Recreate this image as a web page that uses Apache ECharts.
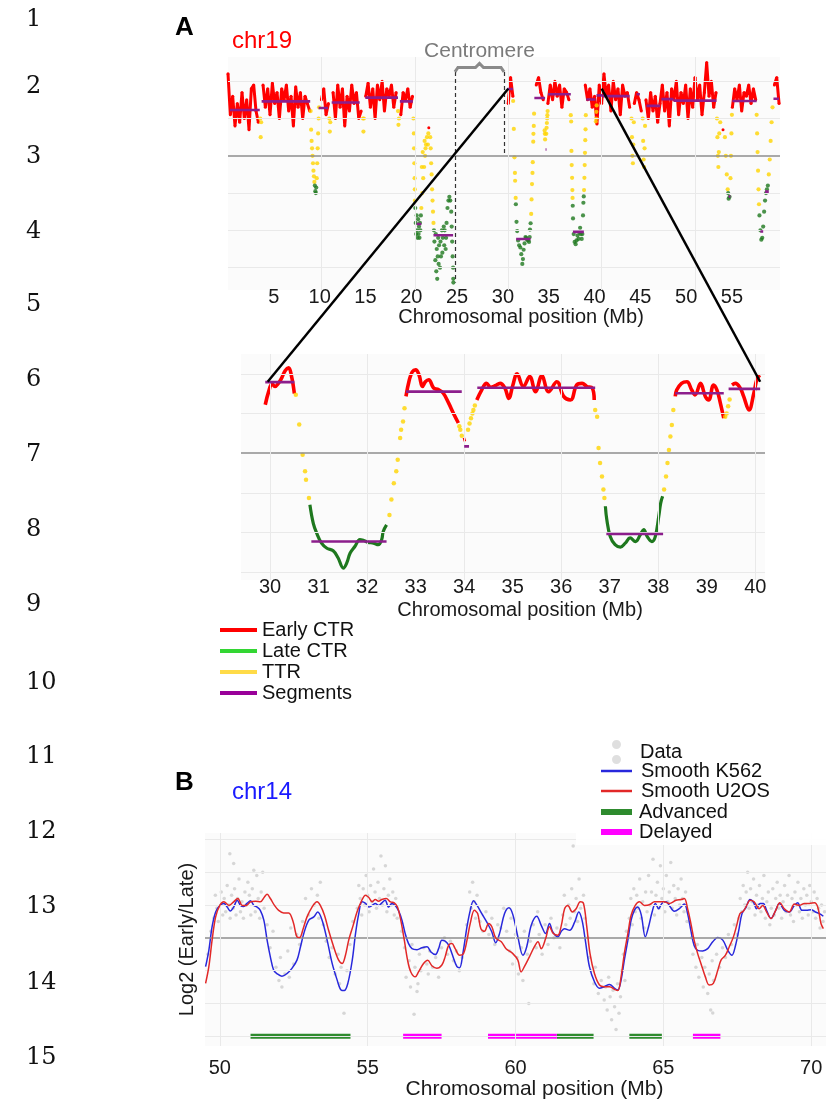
<!DOCTYPE html>
<html>
<head>
<meta charset="utf-8">
<script src="https://cdn.jsdelivr.net/npm/echarts@6/dist/echarts.min.js"></script>
<style>
  html, body { margin: 0; padding: 0; background: #fff; }
  #chart { width: 826px; height: 1103px; }
</style>
</head>
<body>
<div id="chart"></div>
<script>
// ---- panel A, chr19 overview: early CTR profile sampled every 0.25 Mb (null = not early)
const chr19Step = 0.25;
const chr19Early = [
  2.2, 1.1, 1.6, 0.8,  1.4, 0.9, 1.7, 1.0,  1.5, 0.7, 1.8, 1.9,  1.2, 0.9, null, 1.9,   // 0-3
  1.3, 1.8, 1.1, 1.95, 1.4, 1.7, 1.0, 1.8,  1.5, 1.9, 1.2, 1.6,  0.8, 1.85, 1.3, 1.7,  // 4-7
  1.0, 1.6, 1.4, 1.2,  null, null, null, null, 1.5, 1.8, 1.1, 1.4, null, 1.7, 1.0, 1.9,  // 8-11
  1.3, 1.8, 0.8, 1.6,  1.2, 1.9, 1.4, 1.7,  1.0, 1.2, null, 1.6,  1.95, 1.3, 1.8, 1.0,  // 12-15
  1.9, 1.5, 2.0, 1.2,  1.8, 1.6, 1.9, 1.3,  1.7, null, 1.1, 1.7,  1.5, 1.8, 1.3, 1.6,   // 16-19
  null, null, null, null, null, null, 0.75, null,                                     // 20-21
  null, null, null, null, null, null, null, null, null, null, null, null,             // 22-24
  null, null, null, null, null, null, null, null, null, null, null, null,             // 25-27
  null, null, null, null, null, null, null, null,                                     // 28-29
  1.4, 2.1, 1.6, null, null, null, null, null, null, null, null, null,                // 30-32
  1.9, 2.1, 1.7, 1.5,  null, 1.4, 1.9, 1.5,  2.0, 1.6, 1.9, 1.3,  1.8, 1.7, 1.5, null,  // 33-36
  null, null, null, null, null, 1.9, 1.5, 1.8, 1.3, 1.6, 0.85, 1.9,                   // 37-39
  1.4, 2.2, 1.6, 1.9,  1.2, 2.0, 1.5, 1.8,  1.1, 1.9, 1.6, 1.7,  1.3, null, 1.4, 1.7,   // 40-43
  1.5, 1.2, null, 1.5, 1.0, 1.7, 1.2, 1.6,  0.9, 1.4, 1.9, 1.2,  1.7, 0.8, 1.8, 1.5,   // 44-47
  2.0, 1.1, 1.7, 1.4,  1.9, 1.0, 1.8, 1.3,  2.1, 1.5, 1.9, 1.1,  1.7, 2.5, 1.6, 2.0,   // 48-51
  1.3, 1.7, null, null, 0.7, null, null, null, 1.3, 1.8, 1.5, 1.9, 1.2, 1.7, 1.6, 1.9,  // 52-55
  1.4, 1.8, 1.5, null, null, null, null, null, null, null, 1.9, 2.1, 1.4               // 56-59
];
const chr19Ttr = [
  [3.45, 1.0], [3.5, 0.5], [3.55, 0.9],
  [8.85, 1.2], [8.9, 0.7], [8.95, 0.4], [9.0, 0.2], [9.05, 0.0], [9.1, -0.2], [9.15, -0.4], [9.2, -0.55], [9.25, -0.7],
  [9.5, -0.6], [9.55, -0.2], [9.6, 0.2], [9.65, 0.6], [9.7, 1.0], [9.75, 1.3],
  [10.85, 1.0], [10.9, 0.65], [10.95, 0.9], [14.45, 1.0], [14.5, 0.65], [14.55, 1.0],
  [18.2, 1.2], [18.25, 0.83], [18.3, 1.0],
  [19.85, 1.0], [19.9, 0.6], [19.92, 0.2], [19.95, -0.2], [19.98, -0.6], [20.0, -0.9], [20.02, -1.2],
  [20.7, -1.4], [20.75, -0.3], [20.8, -1.0], [20.85, 0.1], [20.9, -0.6], [21.0, -0.3], [21.05, 0.4], [21.1, 0.0],
  [21.15, 0.2], [21.2, 0.3], [21.3, 0.5], [21.4, 0.3], [21.45, 0.6],
  [21.65, 0.5], [21.7, 0.2], [21.75, -0.2], [21.8, -0.5], [21.85, -0.9], [21.9, -1.2], [21.95, -1.5], [22.0, -1.8],
  [43.2, 1.0], [43.25, 0.5], [43.3, 0.0], [43.35, -0.2], [43.4, 0.3], [43.45, 0.9],
  [44.4, 1.0], [44.45, 0.4], [44.5, -0.1], [44.55, -0.3], [44.6, 0.2], [44.65, 0.8],
  [52.35, 1.0], [52.4, 0.5], [52.45, 0.0], [52.5, -0.3], [52.55, 0.1], [52.6, 0.6], [52.7, 0.9],
  [53.2, 0.5], [53.3, 0.0], [53.4, -0.5], [53.5, -0.9], [53.8, -0.6], [53.85, 0.0], [53.9, 0.6], [53.95, 1.1],
  [56.6, 1.1], [56.65, 0.6], [56.7, 0.1], [56.75, -0.4], [56.8, -0.9], [56.85, -1.3],
  [57.9, -0.5], [58.0, -0.1], [58.1, 0.4], [58.2, 0.9], [58.3, 1.3]
];
const chr19Late = [
  [9.3, -0.8], [9.35, -0.95], [9.4, -1.0], [9.45, -0.85],
  [20.05, -1.4], [20.1, -1.8], [20.15, -2.1], [20.2, -1.6], [20.25, -2.0], [20.3, -2.2], [20.35, -1.7], [20.4, -2.1],
  [20.45, -1.9], [20.5, -2.2], [20.55, -1.8], [20.6, -2.0], [20.65, -1.6],
  [22.05, -2.0], [22.1, -2.3], [22.2, -2.8], [22.25, -2.1], [22.3, -3.1], [22.35, -2.5], [22.4, -3.3], [22.45, -2.7],
  [22.5, -2.2], [22.55, -2.9], [22.6, -2.4], [22.7, -3.0], [22.75, -2.3], [22.8, -2.7], [22.9, -2.0], [22.95, -2.6],
  [23.0, -2.2], [23.1, -1.9], [23.15, -2.4], [23.2, -2.0], [23.3, -2.5], [23.35, -2.2], [23.4, -1.8], [23.5, -1.4],
  [23.6, -1.2], [23.7, -1.1], [23.8, -1.2], [23.9, -1.5], [23.95, -1.9], [24.0, -2.3], [24.05, -2.7], [24.1, -3.0],
  [24.12, -3.3], [24.13, -3.4],
  [53.55, -1.0], [53.6, -1.15], [53.7, -1.1],
  [56.9, -1.6], [57.0, -2.0], [57.1, -2.25], [57.2, -2.2], [57.3, -1.9], [57.4, -1.5], [57.5, -1.2], [57.6, -1.0],
  [57.7, -0.9], [57.8, -0.8]
];
const chr19Segments = [
  [0.2, 3.4, 1.23], [3.6, 8.8, 1.46], [9.7, 10.7, 1.28], [11.1, 14.1, 1.43], [14.7, 18.2, 1.56], [18.4, 19.8, 1.46],
  [20.2, 20.7, -1.83], [22.0, 24.1, -2.13], [40.1, 43.0, 1.6], [43.75, 44.1, 1.65], [44.8, 46.25, 1.34],
  [46.4, 47.7, 1.52], [47.7, 52.3, 1.48], [53.6, 53.8, -1.09], [54.0, 56.6, 1.47], [57.0, 57.3, -2.03],
  [57.5, 57.9, -0.96], [58.4, 59.0, 1.53]
];
const centromere = [24.3, 29.55];
const zoomRange = [30, 40];

// ---- panel A, zoom 30-40 Mb (also drawn in the overview)
const zoomEarly = [
  [[29.9, 1.22], [29.97, 1.55], [30.04, 1.75], [30.1, 1.68], [30.17, 1.76], [30.24, 1.9], [30.31, 2.08], [30.38, 2.15], [30.44, 1.95], [30.5, 1.5]],
  [[32.8, 1.43], [32.87, 1.85], [32.93, 2.05], [33.0, 2.1], [33.07, 1.97], [33.14, 1.68], [33.2, 1.8], [33.27, 1.85], [33.37, 1.64],
   [33.47, 1.6], [33.57, 1.51], [33.68, 1.26], [33.78, 1.0], [33.88, 0.76]],
  [[33.98, 0.33], [34.03, 0.35]],
  [[34.26, 1.34], [34.36, 1.59], [34.46, 1.76], [34.55, 1.66], [34.64, 1.7], [34.74, 1.76], [34.84, 1.64], [34.92, 1.38], [35.0, 1.7],
   [35.09, 2.0], [35.22, 1.68], [35.35, 1.93], [35.47, 1.55], [35.6, 1.95], [35.74, 1.55], [35.91, 1.8], [36.05, 1.43], [36.19, 1.34],
   [36.32, 1.72], [36.43, 1.76], [36.53, 1.68], [36.64, 1.64], [36.68, 1.34]],
  [[38.35, 1.43], [38.38, 1.59], [38.48, 1.76], [38.59, 1.8], [38.69, 1.59], [38.76, 1.47], [38.87, 1.76], [38.97, 1.43], [39.04, 1.34],
   [39.14, 1.72], [39.21, 1.59], [39.28, 1.26], [39.35, 0.88]],
  [[39.52, 1.72], [39.59, 1.76], [39.69, 1.64], [39.76, 1.43], [39.87, 1.09], [39.97, 1.51], [40.03, 1.85], [40.09, 1.97]]
];
const zoomTtr = [
  [30.53, 1.47], [30.6, 0.72], [30.67, -0.04], [30.72, -0.46], [30.74, -0.67], [30.8, -1.13],
  [32.46, -1.56], [32.5, -1.17], [32.55, -0.76], [32.6, -0.46], [32.63, -0.17], [32.68, 0.38], [32.7, 0.59], [32.74, 0.8], [32.77, 1.13],
  [33.9, 0.68], [33.92, 0.59], [33.95, 0.44], [34.08, 0.59], [34.11, 0.75], [34.14, 0.88], [34.17, 1.0], [34.19, 1.09], [34.22, 1.2],
  [36.7, 1.09], [36.74, 0.92], [36.77, 0.13], [36.8, -0.25], [36.84, -0.59], [36.87, -0.92], [36.89, -1.13],
  [38.12, -0.92], [38.16, -0.59], [38.19, -0.25], [38.22, 0.08], [38.25, 0.42], [38.28, 0.71], [38.31, 1.09],
  [39.38, 0.92], [39.41, 1.0], [39.44, 1.18], [39.47, 1.35]
];
const zoomLate = [
  [[30.82, -1.3], [30.89, -1.77], [30.96, -2.02], [31.06, -2.27], [31.17, -2.4], [31.3, -2.46], [31.4, -2.64], [31.51, -2.9], [31.58, -2.77],
   [31.65, -2.52], [31.75, -2.35], [31.85, -2.18], [31.92, -2.2], [32.02, -2.25], [32.13, -2.27], [32.23, -2.31], [32.3, -2.18], [32.33, -1.98], [32.4, -1.81]],
  [[36.91, -1.34], [36.94, -1.68], [37.01, -2.1], [37.11, -2.31], [37.22, -2.37], [37.32, -2.27], [37.42, -2.14], [37.53, -2.23], [37.63, -2.06],
   [37.7, -1.93], [37.77, -2.1], [37.87, -2.23], [37.94, -2.1], [38.01, -1.6], [38.05, -1.26], [38.09, -1.09]]
];
const zoomSegments = [
  [29.9, 30.5, 1.79], [30.85, 32.4, -2.23], [32.8, 33.95, 1.55], [34.0, 34.1, 0.17], [34.27, 36.7, 1.65],
  [36.93, 38.1, -2.04], [38.35, 39.35, 1.51], [39.45, 40.1, 1.62]
];

// ---- panel B, chr14
const chr14Data = [
  [49.6, -0.5], [49.7, 0.2], [49.8, 0.6], [49.85, 1.3], [49.9, 0.9], [49.95, 0.5],
  [50.05, 1.4], [50.1, 0.7], [50.15, 1.2], [50.2, 0.8], [50.25, 1.6], [50.3, 1.0], [50.34, 2.57], [50.35, 0.6], [50.4, 1.3], [50.45, 0.9],
  [50.47, 2.27], [50.5, 1.5], [50.55, 0.7], [50.6, 1.2], [50.65, 1.8], [50.7, 0.8], [50.75, 1.1], [50.8, 0.6], [50.85, 1.4], [50.9, 1.0],
  [50.95, 1.7], [51.0, 1.3], [51.05, 0.7], [51.1, 1.5], [51.15, 2.06], [51.2, 0.8], [51.25, 1.9], [51.3, 1.2], [51.35, 0.6], [51.4, 1.4],
  [51.45, 2.0], [51.5, 0.9],
  [51.6, 0.4], [51.7, -0.3], [51.8, 0.2], [51.9, -0.9], [52.0, -1.3], [52.05, -0.6], [52.1, -1.5], [52.2, -1.1], [52.3, -0.4], [52.35, -1.2],
  [52.4, 0.3], [52.5, -0.8], [52.6, 0.1], [52.7, -0.2], [52.8, 0.5], [52.9, 1.2], [53.0, 0.7], [53.1, 1.5], [53.2, 1.0], [53.3, 1.3],
  [53.35, 0.6], [53.4, 1.7], [53.5, 0.4], [53.6, -0.1], [53.7, -0.6], [53.8, -0.3], [53.9, -1.1], [54.0, -0.5], [54.05, -1.4], [54.1, -0.9],
  [54.2, -2.3], [54.3, -1.0], [54.4, -0.2], [54.5, 0.5],
  [54.65, 0.9], [54.7, 1.6], [54.75, 1.2], [54.8, 0.7], [54.85, 1.5], [54.9, 1.0], [54.95, 1.9], [55.0, 1.3], [55.05, 0.8], [55.1, 1.6],
  [55.15, 1.1], [55.2, 2.1], [55.25, 1.4], [55.3, 0.9], [55.35, 1.7], [55.4, 1.2], [55.45, 2.5], [55.5, 1.0], [55.55, 1.5], [55.6, 2.2],
  [55.65, 0.8], [55.7, 1.3], [55.75, 1.8], [55.8, 1.0], [55.85, 1.4], [55.9, 0.7], [55.95, 1.2], [56.0, 0.6],
  [56.15, 0.2], [56.25, -0.3], [56.3, -1.2], [56.4, -0.7], [56.45, -1.5], [56.5, -0.2], [56.57, -2.33], [56.6, -0.9], [56.67, -1.64],
  [56.7, -1.4], [56.75, -0.5], [56.8, -1.0], [56.9, -0.3], [57.0, -0.8], [57.05, -1.1], [57.1, -0.4], [57.2, -0.9], [57.3, -0.6],
  [57.4, -1.2], [57.5, -0.3], [57.6, 0.0], [57.7, -0.5], [57.8, -0.1], [57.9, -0.7], [58.0, -0.4], [58.1, -1.0], [58.2, -0.6],
  [58.35, 0.4], [58.45, 1.4], [58.5, 0.9], [58.55, 1.7], [58.6, 1.1], [58.65, 0.6], [58.7, 1.3], [58.8, 0.5], [58.9, 0.2], [59.0, 0.8],
  [59.1, 0.1], [59.2, 0.6], [59.3, -0.2], [59.4, 0.4],
  [59.5, 0.3], [59.6, 0.9], [59.7, 0.2], [59.8, -0.4], [59.85, 0.6], [59.9, -0.8], [60.0, 0.1], [60.05, -0.6], [60.1, -1.1], [60.2, -0.3],
  [60.25, -1.3], [60.3, 0.2], [60.4, -0.5], [60.45, -2.0], [60.5, -0.1], [60.6, 0.4], [60.7, -0.3], [60.75, 0.8], [60.8, 0.1], [60.9, -0.5],
  [61.0, 0.4], [61.1, -0.2], [61.2, 0.6], [61.3, 0.0], [61.4, 0.3], [61.5, -0.3],
  [61.6, 0.7], [61.65, 1.3], [61.7, 0.4], [61.8, 1.0], [61.85, 0.6], [61.9, 1.5], [61.95, 2.8], [62.0, 0.8], [62.05, 1.2], [62.1, 0.5],
  [62.15, 1.8], [62.2, 0.9], [62.3, 1.3], [62.35, 0.6],
  [62.45, 0.0], [62.5, -0.6], [62.55, -1.0], [62.65, -1.4], [62.7, -0.9], [62.8, -1.7], [62.9, -1.3], [63.0, -1.9], [63.05, -1.5],
  [63.1, -2.2], [63.15, -1.2], [63.2, -1.8], [63.25, -2.5], [63.3, -1.6], [63.35, -2.1], [63.4, -2.8], [63.45, -1.4], [63.5, -2.3],
  [63.55, -1.8], [63.6, -1.0], [63.65, -0.5], [63.7, -1.3], [63.75, 0.2],
  [63.85, 0.6], [63.9, 1.2], [63.95, 0.4], [64.0, 1.5], [64.05, 0.8], [64.1, 1.3], [64.15, 0.9], [64.2, 1.8], [64.25, 0.6], [64.3, 1.1],
  [64.35, 0.3], [64.4, 1.4], [64.45, 0.8], [64.5, 1.9], [64.55, 1.0], [64.6, 1.4], [64.65, 2.4], [64.7, 0.7], [64.75, 1.3], [64.8, 1.7],
  [64.85, 0.9], [64.9, 2.2], [64.95, 1.2], [65.0, 1.5], [65.05, 0.8], [65.1, 1.9], [65.15, 1.1], [65.2, 1.4], [65.25, 2.3], [65.3, 0.9],
  [65.35, 1.6], [65.4, 1.2], [65.45, 0.7], [65.5, 1.5], [65.55, 1.0], [65.6, 1.8], [65.65, 1.2], [65.7, 0.8], [65.75, 1.4], [65.8, 0.5],
  [65.95, 0.0], [66.0, -0.5], [66.1, -0.9], [66.15, -0.2], [66.2, -1.2], [66.3, -0.6], [66.35, -1.5], [66.4, -0.9], [66.5, -1.7],
  [66.55, -1.1], [66.6, -2.2], [66.65, -0.7], [66.67, -2.29], [66.7, -1.3], [66.8, -0.5], [66.9, -0.9], [67.0, -0.3], [67.1, -0.6],
  [67.2, 0.1], [67.3, -0.2], [67.4, 0.4], [67.5, 0.1],
  [67.55, 0.6], [67.6, 1.2], [67.65, 0.8], [67.7, 1.6], [67.75, 1.0], [67.8, 1.4], [67.85, 2.0], [67.9, 0.9], [67.95, 1.5], [68.0, 1.1],
  [68.05, 1.8], [68.1, 0.7], [68.15, 1.3], [68.2, 1.0], [68.25, 1.6], [68.3, 0.8], [68.35, 1.2], [68.4, 1.9], [68.45, 0.6], [68.5, 1.1],
  [68.55, 1.4], [68.6, 0.4], [68.65, 0.9], [68.7, 1.5], [68.75, 0.7], [68.8, 1.2], [68.85, 1.7], [68.9, 0.9], [68.95, 1.3], [69.0, 0.6],
  [69.05, 1.1], [69.1, 1.6], [69.15, 0.8], [69.2, 1.3], [69.25, 1.9], [69.3, 0.7], [69.35, 1.2], [69.4, 0.5], [69.45, 1.4], [69.5, 1.0],
  [69.55, 1.7], [69.6, 0.8], [69.65, 1.2], [69.7, 0.6], [69.75, 1.5], [69.8, 1.0], [69.85, 1.3], [69.9, 0.7], [69.95, 1.6], [70.0, 1.1],
  [70.05, 0.8], [70.1, 1.4], [70.15, 0.6], [70.2, 1.2], [70.25, 0.9], [70.3, 0.3], [70.35, 1.0], [70.4, 0.5], [70.45, 0.8]
];
const smoothK562 = [
  [49.52, -0.88], [49.63, -0.38], [49.74, 0.34], [49.86, 0.79], [50.0, 0.99], [50.14, 1.05], [50.25, 0.94], [50.36, 0.82], [50.47, 0.94],
  [50.59, 1.15], [50.7, 0.99], [50.81, 0.96], [50.92, 1.05], [51.04, 1.13], [51.15, 0.99], [51.26, 0.94], [51.37, 0.84], [51.49, 0.54],
  [51.6, -0.07], [51.71, -0.58], [51.82, -0.98], [51.93, -1.09], [52.1, -1.17], [52.27, -1.09], [52.44, -0.93], [52.61, -0.68],
  [52.73, -0.27], [52.84, 0.13], [53.01, 0.54], [53.18, 0.64], [53.31, 0.79], [53.46, 0.54], [53.63, -0.07], [53.8, -0.78],
  [53.97, -1.29], [54.1, -1.59], [54.21, -1.61], [54.33, -1.39], [54.48, -0.68], [54.59, 0.13], [54.7, 0.74], [54.81, 1.1],
  [54.93, 1.05], [55.04, 0.94], [55.15, 0.99], [55.26, 1.05], [55.37, 0.99], [55.48, 1.07], [55.59, 1.15], [55.71, 0.94], [55.82, 1.05],
  [55.93, 0.99], [56.04, 0.84], [56.16, 0.54], [56.27, 0.13], [56.38, -0.17], [56.5, -0.33], [56.67, -0.36], [56.84, -0.3],
  [57.01, -0.27], [57.14, -0.43], [57.29, -0.51], [57.4, -0.33], [57.51, -0.07], [57.62, -0.1], [57.74, -0.22], [57.85, -0.48],
  [58.02, -0.88], [58.11, -0.91], [58.22, -0.48], [58.36, 0.34], [58.47, 0.84], [58.58, 1.13], [58.7, 0.99], [58.86, 0.74],
  [59.03, 0.48], [59.2, 0.18], [59.33, -0.15], [59.46, 0.13], [59.63, 0.74], [59.78, 0.92], [59.91, 0.71], [60.08, 0.03],
  [60.25, -0.53], [60.38, -0.27], [60.53, 0.38], [60.72, 0.66], [60.87, 0.38], [61.02, 0.13], [61.15, 0.44], [61.26, 0.18],
  [61.43, 0.03], [61.55, 0.2], [61.66, 0.28], [61.83, 0.23], [62.0, 0.48], [62.14, 0.79], [62.25, 0.54], [62.36, -0.07],
  [62.5, -0.88], [62.67, -1.34], [62.84, -1.54], [63.0, -1.49], [63.18, -1.42], [63.35, -1.54], [63.46, -1.59], [63.57, -1.29],
  [63.68, -0.68], [63.8, -0.07], [63.91, 0.54], [64.02, 0.84], [64.13, 0.94], [64.25, 0.71], [64.39, 0.03], [64.5, 0.34],
  [64.62, 0.79], [64.73, 1.05], [64.84, 0.89], [64.95, 1.05], [65.09, 1.1], [65.2, 0.99], [65.37, 0.81], [65.54, 0.89], [65.71, 1.03],
  [65.82, 0.74], [65.93, 0.23], [66.04, -0.23], [66.16, -0.38], [66.33, -0.4], [66.5, -0.33], [66.67, -0.12], [66.84, 0.01],
  [67.01, -0.07], [67.18, -0.38], [67.32, -0.53], [67.43, -0.27], [67.55, 0.23], [67.66, 0.74], [67.8, 0.94], [67.93, 1.17],
  [68.04, 1.1], [68.15, 0.89], [68.27, 1.05], [68.38, 1.05], [68.49, 0.84], [68.64, 0.59], [68.79, 0.82], [68.92, 1.05], [69.09, 0.84],
  [69.26, 0.79], [69.43, 0.99], [69.54, 1.07], [69.69, 0.84], [69.83, 0.84], [70.0, 0.86], [70.14, 0.79], [70.28, 0.74], [70.41, 0.66]
];
const smoothU2OS = [
  [49.52, -1.39], [49.63, -0.88], [49.74, -0.07], [49.86, 0.64], [50.0, 0.99], [50.14, 1.1], [50.31, 0.99], [50.47, 1.1], [50.61, 1.2],
  [50.76, 0.99], [50.9, 0.99], [51.04, 1.1], [51.21, 1.12], [51.37, 1.1], [51.51, 1.25], [51.6, 1.33], [51.71, 1.2], [51.85, 0.99],
  [51.99, 0.84], [52.16, 0.76], [52.33, 0.76], [52.48, 0.49], [52.61, 0.03], [52.7, 0.01], [52.82, 0.28], [52.95, 0.64], [53.12, 0.94],
  [53.29, 1.1], [53.4, 0.99], [53.54, 0.69], [53.68, 0.23], [53.85, -0.27], [54.02, -0.68], [54.14, -0.78], [54.25, -0.53],
  [54.36, -0.07], [54.51, 0.38], [54.64, 0.79], [54.78, 1.1], [54.93, 1.3], [55.04, 1.23], [55.15, 1.1], [55.26, 1.17], [55.37, 1.12],
  [55.48, 1.17], [55.63, 1.2], [55.77, 1.1], [55.9, 1.07], [56.01, 0.94], [56.12, 0.54], [56.24, -0.07], [56.35, -0.68], [56.46, -1.04],
  [56.61, -1.19], [56.72, -1.04], [56.89, -0.78], [57.03, -0.68], [57.18, -0.86], [57.34, -0.93], [57.51, -0.83], [57.62, -0.58],
  [57.74, -0.22], [57.85, -0.17], [57.96, -0.33], [58.11, -0.53], [58.24, -0.48], [58.36, -0.07], [58.47, 0.44], [58.61, 0.84],
  [58.72, 0.74], [58.83, 0.28], [58.95, 0.2], [59.09, 0.44], [59.2, 0.34], [59.33, 0.0], [59.52, -0.12], [59.68, -0.33], [59.91, -0.48],
  [60.08, -0.68], [60.19, -1.04], [60.3, -0.88], [60.47, -0.58], [60.64, -0.27], [60.76, -0.12], [60.87, -0.33], [61.02, -0.02],
  [61.15, 0.34], [61.28, 0.13], [61.43, 0.08], [61.55, 0.38], [61.66, 0.89], [61.77, 0.99], [61.92, 0.79], [62.05, 0.89], [62.19, 1.1],
  [62.3, 1.05], [62.41, 0.34], [62.52, -0.48], [62.67, -1.09], [62.84, -1.44], [63.0, -1.49], [63.18, -1.49], [63.35, -1.57],
  [63.46, -1.61], [63.57, -1.19], [63.68, -0.48], [63.8, 0.13], [63.91, 0.69], [64.05, 0.99], [64.19, 1.1], [64.36, 0.99], [64.53, 1.01],
  [64.7, 1.1], [64.87, 1.1], [65.03, 1.1], [65.2, 1.05], [65.43, 1.15], [65.6, 1.17], [65.71, 1.2], [65.82, 0.89], [65.93, 0.44],
  [66.04, -0.07], [66.16, -0.48], [66.27, -0.78], [66.42, -1.19], [66.55, -1.44], [66.69, -1.39], [66.84, -0.99], [66.95, -0.68],
  [67.1, -0.53], [67.23, -0.27], [67.37, 0.03], [67.48, 0.38], [67.59, 0.74], [67.71, 0.82], [67.82, 0.99], [67.93, 1.15], [68.07, 1.1],
  [68.24, 0.89], [68.36, 0.99], [68.49, 0.79], [68.64, 0.59], [68.79, 0.82], [68.94, 1.07], [69.09, 0.89], [69.26, 0.79], [69.43, 1.03],
  [69.6, 0.99], [69.77, 1.05], [69.94, 1.05], [70.11, 1.07], [70.22, 0.94], [70.33, 0.44], [70.41, 0.28]
];
const advancedRegions = [[51.04, 54.42], [61.4, 62.64], [63.85, 64.95]];
const delayedRegions = [[56.2, 57.5], [59.07, 61.4], [66.0, 66.93]];
const regionRow = -3;

const lineNumberY = [20, 87, 157, 232, 305, 380, 455, 530, 605, 683, 757, 832, 907, 983, 1058];

// ---- helpers
const FONT = 'Liberation Sans';
const C = {
  early: '#ff0000', ttr: '#ffd400', late: '#1e781e', seg: '#8c1e8c',
  k562: '#2828dc', u2os: '#e22828', adv: '#2e8b2e', del: '#ff00ff', data: '#c9c9c9'
};
function joinClusters(clusters) {
  const out = [];
  clusters.forEach((c, i) => { if (i) out.push(['-', '-']); c.forEach(p => out.push(p)); });
  return out;
}
const segLines = segs => joinClusters(segs.map(s => [[s[0], s[2]], [s[1], s[2]]]));
const barLines = (bars, y) => joinClusters(bars.map(b => [[b[0], y], [b[1], y]]));
const gridStyle = { color: '#e9e9e9', width: 1, type: 'solid' };
const zeroStyle = { color: '#8e8e8e', width: 1.6, type: 'solid' };
function gridSeries(xi, yi, ys, xs, extra) {
  const data = ys.map(v => ({ yAxis: v, lineStyle: v === 0 ? zeroStyle : gridStyle }))
    .concat(xs.map(v => ({ xAxis: v, lineStyle: gridStyle })))
    .concat(extra || []);
  return {
    type: 'line', xAxisIndex: xi, yAxisIndex: yi, data: [], silent: true, z: 1,
    markLine: { silent: true, symbol: ['none', 'none'], label: { show: false }, animation: false, data: data }
  };
}
const intLabel = step => v => {
  const r = Math.round(v / step) * step;
  return Math.abs(v - r) < 1e-6 ? String(Math.round(r)) : '';
};
const hiddenAxisParts = { axisLine: { show: false }, axisTick: { show: false }, splitLine: { show: false } };
const axisNameStyle = { fontSize: 20, color: '#1a1a1a', fontFamily: FONT, padding: [0, 0, 0, 34] };

const chart = echarts.init(document.getElementById('chart'), null, { renderer: 'canvas', width: 826, height: 1103 });

const option = {
  animation: false,
  backgroundColor: '#ffffff',
  textStyle: { fontFamily: FONT },
  grid: [
    { left: 228, top: 57, width: 552, height: 233, show: true, backgroundColor: '#fbfbfb', borderWidth: 0, outerBoundsMode: 'none' },
    { left: 241, top: 354, width: 524, height: 226, show: true, backgroundColor: '#fbfbfb', borderWidth: 0, outerBoundsMode: 'none' },
    { left: 205, top: 833, width: 621, height: 213, show: true, backgroundColor: '#fbfbfb', borderWidth: 0, outerBoundsMode: 'none' }
  ],
  xAxis: [
    Object.assign({ gridIndex: 0, type: 'value', position: 'bottom', min: 0, max: 59.1, axisLabel: { show: false } }, hiddenAxisParts),
    Object.assign({
      gridIndex: 0, type: 'value', position: 'bottom', min: 0, max: 60.24, interval: 5,
      axisLabel: { margin: -3, fontSize: 20, color: '#1a1a1a', fontFamily: FONT, formatter: v => (v >= 5 && v <= 55) ? String(v) : '' },
      name: 'Chromosomal position (Mb)', nameLocation: 'middle', nameGap: 17, nameTextStyle: axisNameStyle
    }, hiddenAxisParts),
    Object.assign({
      gridIndex: 1, type: 'value', position: 'bottom', min: 29.4, max: 40.2, interval: 0.2,
      axisLabel: { margin: -3, fontSize: 20, color: '#1a1a1a', fontFamily: FONT, formatter: intLabel(1) },
      name: 'Chromosomal position (Mb)', nameLocation: 'middle', nameGap: 20, nameTextStyle: axisNameStyle
    }, hiddenAxisParts),
    Object.assign({
      gridIndex: 2, type: 'value', position: 'bottom', min: 49.5, max: 70.5, interval: 0.5,
      axisLabel: { margin: 12, fontSize: 20, color: '#1a1a1a', fontFamily: FONT, formatter: intLabel(5) },
      name: 'Chromosomal position (Mb)', nameLocation: 'middle', nameGap: 32,
      nameTextStyle: Object.assign({}, axisNameStyle, { fontSize: 21, padding: [0, 0, 0, 38] })
    }, hiddenAxisParts)
  ],
  yAxis: [
    Object.assign({ gridIndex: 0, type: 'value', min: -3.6, max: 2.65, axisLabel: { show: false } }, hiddenAxisParts),
    Object.assign({ gridIndex: 1, type: 'value', min: -3.2, max: 2.5, axisLabel: { show: false } }, hiddenAxisParts),
    Object.assign({
      gridIndex: 2, type: 'value', min: -3.3, max: 3.2, axisLabel: { show: false },
      name: 'Log2 (Early/Late)', nameLocation: 'middle', nameGap: 8,
      nameTextStyle: { fontSize: 20, color: '#1a1a1a', fontFamily: FONT }
    }, hiddenAxisParts)
  ],
  legend: [
    {
      orient: 'vertical', left: 220, top: 620, padding: 0, itemWidth: 37, itemHeight: 4, itemGap: 1, icon: 'rect',
      selectedMode: false, z: 20,
      textStyle: { fontSize: 20, color: '#111', fontFamily: FONT, lineHeight: 20 },
      data: [
        { name: 'Early CTR', itemStyle: { color: '#ff0000' } },
        { name: 'Late CTR', itemStyle: { color: '#00cc00' } },
        { name: 'TTR', itemStyle: { color: '#ffd21a' } },
        { name: 'Segments', itemStyle: { color: '#990099' } }
      ]
    },
    {
      orient: 'vertical', left: 612, top: 740, padding: 0, itemWidth: 9, itemHeight: 24, selectedMode: false, z: 20,
      icon: 'path://M0,4.5a4.5,4.5 0 1,0 9,0a4.5,4.5 0 1,0 -9,0zM0,19.5a4.5,4.5 0 1,0 9,0a4.5,4.5 0 1,0 -9,0z',
      textStyle: { fontSize: 20, color: '#111', fontFamily: FONT, padding: [0, 0, 0, 14] },
      data: [{ name: 'Data', itemStyle: { color: '#d4d4d4' } }]
    },
    {
      orient: 'vertical', left: 601, top: 761, padding: 0, itemWidth: 31, itemHeight: 2.5, itemGap: 0, icon: 'rect',
      selectedMode: false, z: 20,
      textStyle: { fontSize: 20, color: '#111', fontFamily: FONT, lineHeight: 20, padding: [0, 0, 0, 4] },
      data: ['Smooth K562', 'Smooth U2OS']
    },
    {
      orient: 'vertical', left: 601, top: 802, padding: 0, itemWidth: 31, itemHeight: 6, itemGap: 0, icon: 'rect',
      selectedMode: false, z: 20,
      textStyle: { fontSize: 20, color: '#111', fontFamily: FONT, lineHeight: 18, padding: [0, 0, 0, 2] },
      data: ['Advanced', 'Delayed']
    }
  ],
  series: [
    gridSeries(0, 0, [-3, -2, -1, 0, 1, 2], [10, 20, 30, 40, 50], [
      [{ coord: [centromere[0], 2.25], lineStyle: { color: '#333', width: 1.2, type: [4, 3] } }, { coord: [centromere[0], -3.4] }],
      [{ coord: [centromere[1], 2.25], lineStyle: { color: '#333', width: 1.2, type: [4, 3] } }, { coord: [centromere[1], 0] }]
    ]),
    {
      name: 'Early CTR', type: 'line', xAxisIndex: 0, yAxisIndex: 0, z: 3, showSymbol: true, symbol: 'circle', symbolSize: 3,
      connectNulls: false, lineStyle: { color: C.early, width: 3 }, itemStyle: { color: C.early },
      data: chr19Early.map((v, i) => [i * chr19Step, v == null ? '-' : v])
    },
    {
      name: 'TTR', type: 'scatter', xAxisIndex: 0, yAxisIndex: 0, z: 4, symbolSize: 4.2,
      itemStyle: { color: C.ttr }, data: chr19Ttr.concat(zoomTtr)
    },
    {
      name: 'Late CTR', type: 'scatter', xAxisIndex: 0, yAxisIndex: 0, z: 4, symbolSize: 4.2,
      itemStyle: { color: C.late }, data: chr19Late.concat(joinClusters(zoomLate).filter(p => p[0] !== '-'))
    },
    {
      name: 'Segments', type: 'line', xAxisIndex: 0, yAxisIndex: 0, z: 5, showSymbol: false,
      lineStyle: { color: C.seg, width: 2.6 }, itemStyle: { color: C.seg },
      data: segLines(chr19Segments.concat(zoomSegments))
    },

    gridSeries(2, 1, [-3, -2, -1, 0, 1, 2], [30, 32, 34, 36, 38, 40]),
    {
      name: 'Early CTR', type: 'line', xAxisIndex: 2, yAxisIndex: 1, z: 3, smooth: 0.4, showSymbol: false, connectNulls: false,
      lineStyle: { color: C.early, width: 3.6 }, itemStyle: { color: C.early }, data: joinClusters(zoomEarly)
    },
    {
      name: 'TTR', type: 'scatter', xAxisIndex: 2, yAxisIndex: 1, z: 4, symbolSize: 4.5,
      itemStyle: { color: C.ttr }, data: zoomTtr
    },
    {
      name: 'Late CTR', type: 'line', xAxisIndex: 2, yAxisIndex: 1, z: 3, smooth: 0.4, showSymbol: false, connectNulls: false,
      lineStyle: { color: C.late, width: 3.2 }, itemStyle: { color: C.late }, data: joinClusters(zoomLate)
    },
    {
      name: 'Segments', type: 'line', xAxisIndex: 2, yAxisIndex: 1, z: 5, showSymbol: false,
      lineStyle: { color: C.seg, width: 2.6 }, itemStyle: { color: C.seg }, data: segLines(zoomSegments)
    },

    gridSeries(3, 2, [-3, -2, -1, 0, 1, 2, 3], [50, 55, 60, 65, 70]),
    {
      name: 'Data', type: 'scatter', xAxisIndex: 3, yAxisIndex: 2, z: 2, symbolSize: 3.5,
      itemStyle: { color: C.data, opacity: 0.75 }, data: chr14Data
    },
    {
      name: 'Smooth K562', type: 'line', xAxisIndex: 3, yAxisIndex: 2, z: 4, smooth: 0.35, showSymbol: false,
      lineStyle: { color: C.k562, width: 1.5 }, itemStyle: { color: C.k562 }, data: smoothK562
    },
    {
      name: 'Smooth U2OS', type: 'line', xAxisIndex: 3, yAxisIndex: 2, z: 5, smooth: 0.35, showSymbol: false,
      lineStyle: { color: C.u2os, width: 1.5 }, itemStyle: { color: C.u2os }, data: smoothU2OS
    },
    {
      name: 'Advanced', type: 'line', xAxisIndex: 3, yAxisIndex: 2, z: 4, showSymbol: false,
      lineStyle: { color: C.adv, width: 5 }, itemStyle: { color: C.adv }, data: barLines(advancedRegions, regionRow)
    },
    {
      name: 'Delayed', type: 'line', xAxisIndex: 3, yAxisIndex: 2, z: 4, showSymbol: false,
      lineStyle: { color: C.del, width: 5 }, itemStyle: { color: C.del }, data: barLines(delayedRegions, regionRow)
    }
  ]
};
chart.setOption(option);

// annotations placed through the axes
const topPx = pt => chart.convertToPixel({ xAxisIndex: 0, yAxisIndex: 0 }, pt);
const zoomPx = pt => chart.convertToPixel({ xAxisIndex: 2, yAxisIndex: 1 }, pt);
const txt = (x, y, text, font, fill, align) => ({
  type: 'text', x: x, y: y, z: 30,
  style: { text: text, font: font, fill: fill, align: align || 'left', verticalAlign: 'middle', textAlign: align || 'left', textVerticalAlign: 'middle' }
});

const graphics = [];
lineNumberY.forEach((y, i) => graphics.push(txt(26, y, String(i + 1), '24px "DejaVu Serif"', '#111')));
graphics.push(txt(175, 28, 'A', 'bold 26px "Liberation Sans"', '#000'));
graphics.push(txt(175, 783, 'B', 'bold 26px "Liberation Sans"', '#000'));
graphics.push(txt(232, 41, 'chr19', '24px "Liberation Sans"', '#ff0000'));
graphics.push(txt(232, 792, 'chr14', '24px "Liberation Sans"', '#1a1aff'));

// centromere brace + label
const cL = topPx([centromere[0], 2.25]), cR = topPx([centromere[1], 2.25]);
const braceY = topPx([centromere[0], 2.37])[1], tipY = topPx([centromere[0], 2.48])[1];
const cMid = (cL[0] + cR[0]) / 2;
graphics.push({
  type: 'polyline', z: 30,
  shape: { points: [[cL[0], cL[1]], [cL[0] + 3, braceY], [cMid - 4, braceY], [cMid, tipY], [cMid + 4, braceY], [cR[0] - 3, braceY], [cR[0], cR[1]]] },
  style: { stroke: '#8a8a8a', lineWidth: 3, fill: null }
});
const labelPt = topPx([(centromere[0] + centromere[1]) / 2, 2.8]);
graphics.push(txt(labelPt[0], labelPt[1], 'Centromere', '21px "Liberation Sans"', '#7a7a7a', 'center'));

// zoom connectors
const a0 = topPx([zoomRange[0], 1.8]), a1 = topPx([zoomRange[1], 1.8]);
const b0 = zoomPx([29.95, 1.8]), b1 = zoomPx([40.1, 1.8]);
graphics.push({ type: 'line', z: 31, shape: { x1: a0[0], y1: a0[1], x2: b0[0], y2: b0[1] }, style: { stroke: '#000', lineWidth: 2.5 } });
graphics.push({ type: 'line', z: 31, shape: { x1: a1[0], y1: a1[1], x2: b1[0], y2: b1[1] }, style: { stroke: '#000', lineWidth: 2.5 } });

// white box behind the panel B legend
graphics.push({ type: 'rect', z: 10, shape: { x: 576, y: 733, width: 250, height: 112 }, style: { fill: '#ffffff', opacity: 0.92 } });

chart.setOption({ graphic: graphics });
</script>
</body>
</html>
